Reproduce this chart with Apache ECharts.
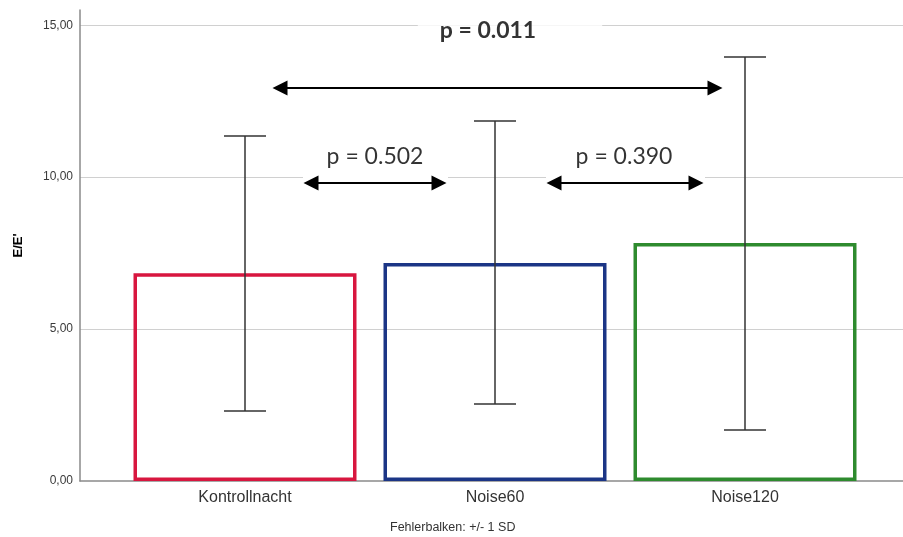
<!DOCTYPE html>
<html><head><meta charset="utf-8">
<script src="https://cdn.jsdelivr.net/npm/echarts@6/dist/echarts.min.js"></script>
<style>html,body{margin:0;padding:0;background:#fff}#c{width:903px;height:537px}</style>
</head><body><div id="c"></div>
<script>
var categories = ['Kontrollnacht', 'Noise60', 'Noise120'];
var means = [6.84, 7.17, 7.83];
var sdLow = [2.30, 2.53, 1.68];
var sdHigh = [11.35, 11.85, 13.95];
var barColors = ['#D8163F', '#1B3586', '#2E8B2E'];
var yTicks = [0, 5, 10, 15];
// comparison annotations: [fromX, toX, yLevel]
var arrowFrom = [0.14, 0.264, 1.236];
var arrowTo = [1.88, 0.776, 1.804];
var arrowY = [12.93, 9.81, 9.81];
var pTexts = ['p = 0.011', 'p = 0.502', 'p = 0.390'];
var pTextX = [1.06, 0.52, 1.516];
var pTextY = [14.81, 10.69, 10.69];
var pBold = [true, false, false];

var chart = echarts.init(document.getElementById('c'), null, {renderer: 'canvas'});

var barData = means.map(function (m, i) {
  return {value: [i, m], itemStyle: {color: 'rgba(255,255,255,0)', borderColor: barColors[i], borderWidth: 3.5}};
});
var errData = means.map(function (m, i) { return [i, sdLow[i], sdHigh[i]]; });

var arrowLines = arrowFrom.map(function (f, i) {
  return [{coord: [f, arrowY[i]]}, {coord: [arrowTo[i], arrowY[i]]}];
});
var maskAreas = [1, 2].map(function (i) {
  return [{coord: [arrowFrom[i] - 0.032, arrowY[i] - 0.22]}, {coord: [arrowTo[i] + 0.036, arrowY[i] + 0.45]}];
});
var labelData = pTexts.map(function (t, i) {
  return {
    value: [pTextX[i], pTextY[i]],
    label: {
      show: true, position: 'inside', formatter: t,
      fontFamily: 'Lato, "Open Sans", sans-serif', fontSize: 23,
      fontWeight: pBold[i] ? 'bold' : 'normal', color: '#000',
      backgroundColor: pBold[i] ? '#fff' : 'transparent',
      padding: pBold[i] ? [6, 66, 6, 22] : 0
    }
  };
});

chart.setOption({
  animation: false,
  backgroundColor: '#fff',
  grid: {left: 80, right: 0, top: 10, bottom: 56},
  xAxis: {
    type: 'value', min: -0.66, max: 2.632,
    axisLine: {show: true, onZero: false, lineStyle: {color: '#8a8a8a', width: 1.5}},
    axisTick: {show: false},
    splitLine: {show: false},
    axisLabel: {
      customValues: [0, 1, 2],
      formatter: function (v) { return categories[Math.round(v)] || ''; },
      fontFamily: '"Liberation Sans", Arial, sans-serif', fontSize: 16, color: '#333', margin: 9
    }
  },
  yAxis: {
    type: 'value', min: 0, max: 15.5, interval: 5,
    name: "E/E'", nameLocation: 'middle', nameGap: 55,
    nameTextStyle: {fontFamily: '"Liberation Sans", Arial, sans-serif', fontSize: 13, fontWeight: 'bold', color: '#000'},
    axisLine: {show: true, onZero: false, lineStyle: {color: '#8a8a8a', width: 1.5}},
    axisTick: {show: false},
    splitLine: {show: true, showMinLine: false, showMaxLine: false, lineStyle: {color: '#d0d0d0', width: 1.2}},
    axisLabel: {
      showMaxLabel: false,
      formatter: function (v) { return yTicks.indexOf(v) >= 0 ? v.toFixed(2).replace('.', ',') : ''; },
      fontFamily: '"Liberation Sans", Arial, sans-serif', fontSize: 12, color: '#3a3a3a', margin: 7
    }
  },
  graphic: [{
    type: 'text', left: 390, top: 521,
    style: {text: 'Fehlerbalken: +/- 1 SD', fontFamily: '"Liberation Sans", Arial, sans-serif', fontSize: 12.5, fill: '#333'}
  }],
  series: [
    {
      type: 'bar', data: barData, barWidth: 223, z: 2,
      markArea: {silent: true, itemStyle: {color: '#fff'}, data: maskAreas}
    },
    {
      type: 'custom', z: 4, data: errData,
      renderItem: function (params, api) {
        var x = api.value(0);
        var lo = api.coord([x, api.value(1)]);
        var hi = api.coord([x, api.value(2)]);
        var cap = 21;
        var st = {stroke: '#333', lineWidth: 1.5};
        return {type: 'group', children: [
          {type: 'line', shape: {x1: lo[0], y1: lo[1], x2: hi[0], y2: hi[1]}, style: st},
          {type: 'line', shape: {x1: lo[0] - cap, y1: lo[1], x2: lo[0] + cap, y2: lo[1]}, style: st},
          {type: 'line', shape: {x1: hi[0] - cap, y1: hi[1], x2: hi[0] + cap, y2: hi[1]}, style: st}
        ]};
      }
    },
    {
      type: 'line', data: [], z: 5,
      markLine: {
        silent: true, symbol: ['triangle', 'triangle'], symbolSize: [15, 15],
        label: {show: false},
        lineStyle: {color: '#000', width: 2, type: 'solid'},
        itemStyle: {color: '#000'},
        data: arrowLines
      }
    },
    {
      type: 'scatter', symbolSize: 0, z: 6, data: labelData
    }
  ]
});
</script></body></html>
